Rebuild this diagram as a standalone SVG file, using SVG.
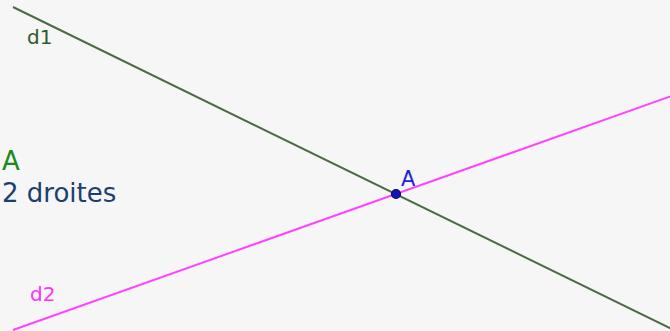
<svg xmlns="http://www.w3.org/2000/svg" width="670" height="331" viewBox="0 0 670 331">
<style>
text{font-family:"DejaVu Sans",Verdana,sans-serif}
.line{fill:none;stroke-width:2}
</style>
<rect width="670" height="331" fill="#f6f6f6"/>
<g id="connectors">
<line id="d1" class="line" x1="13" y1="7" x2="680" y2="333" stroke="#4b6b44"/>
<line id="d2" class="line" x1="13" y1="330" x2="680" y2="93" stroke="#ff44ff"/>
</g>
<g id="label-d1"><text x="27" y="44" font-size="20" fill="#2f5a2a">d1</text></g>
<g id="label-d2"><text x="30" y="301" font-size="20" fill="#ff33ff">d2</text></g>
<g id="title">
<text x="2" y="170" font-size="26" fill="#1a8a1a">A</text>
<text x="2" y="202" font-size="26" fill="#1b3f6e">2 droites</text>
</g>
<g id="point-A">
<circle cx="396" cy="194" r="4.5" fill="#1010c0" stroke="#101050" stroke-width="1.2"/>
<text x="401" y="186" font-size="21" fill="#2020e0">A</text>
</g>
</svg>
